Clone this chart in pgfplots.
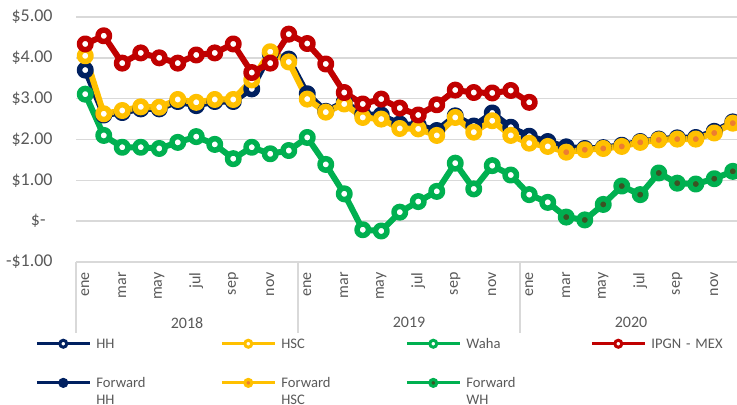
\documentclass[border=0pt]{standalone}
\usepackage{pgfplots}
\pgfplotsset{compat=1.18}
\usepackage{pgfplotstable}
\usepackage{fontspec}
\setmainfont{Carlito}
\definecolor{cHH}{HTML}{002060}
\definecolor{cHSC}{HTML}{FFC000}
\definecolor{cWaha}{HTML}{00B050}
\definecolor{cIPGN}{HTML}{C00000}
\definecolor{dotHSC}{HTML}{ED7D31}
\definecolor{dotWH}{HTML}{3B5323}
\definecolor{gridc}{HTML}{D9D9D9}
\definecolor{txt}{HTML}{595959}

\pgfplotstableread{
i HH HSC Waha IPGN
0 3.70 4.05 3.11 4.34
1 2.60 2.63 2.10 4.54
2 2.66 2.71 1.81 3.87
3 2.75 2.80 1.81 4.12
4 2.75 2.79 1.78 4.00
5 2.93 2.98 1.93 3.87
6 2.83 2.91 2.07 4.07
7 2.93 2.98 1.88 4.12
8 2.93 2.98 1.53 4.34
9 3.24 3.46 1.81 3.64
10 4.10 4.15 1.65 3.87
11 3.97 3.90 1.73 4.58
12 3.12 2.99 2.05 4.35
13 2.69 2.67 1.39 3.85
14 2.92 2.87 0.67 3.15
15 2.62 2.54 -0.21 2.87
16 2.60 2.50 -0.24 2.99
17 2.38 2.27 0.22 2.77
18 2.35 2.26 0.48 2.60
19 2.22 2.10 0.73 2.85
20 2.58 2.54 1.42 3.21
21 2.33 2.18 0.79 3.15
22 2.65 2.46 1.36 3.14
23 2.30 2.10 1.13 3.20
24 2.08 1.91 0.65 2.91
25 1.95 1.83 0.46 nan
}\hist

\pgfplotstableread{
i HH HSC WH
25 1.95 1.83 0.46
26 1.82 1.69 0.10
27 1.78 1.75 0.03
28 1.80 1.78 0.41
29 1.86 1.83 0.86
30 1.95 1.93 0.65
31 2.01 1.99 1.18
32 2.04 2.01 0.93
33 2.05 2.01 0.91
34 2.20 2.16 1.04
35 2.43 2.40 1.22
}\fwd

\pgfplotsset{
  histS/.style={line width=3pt, line join=round, mark=*, mark size=2.875pt,
    mark options={fill=white, line width=2.75pt}},
  fwdS/.style={line width=3pt, line join=round, mark=*, mark size=2.875pt,
    mark options={fill=#1, line width=2.75pt}, mark indices={2,...,11}},
  legHist/.style={legend image code/.code={
    \draw[line width=1.4pt] (0pt,2.4pt) -- (26.5pt,2.4pt);
    \draw[line width=1.5pt, fill=white] (13.25pt,2.4pt) circle (1.75pt);}},
  legFwd/.style={legend image code/.code={
    \draw[line width=1.4pt] (0pt,2.4pt) -- (26.5pt,2.4pt);
    \draw[line width=1.5pt, fill=#1] (13.25pt,2.4pt) circle (1.75pt);}},
}

\begin{document}
\begin{tikzpicture}
\begin{axis}[
  scale only axis, width=330.5pt, height=122.5pt,
  xmin=-0.5, xmax=35.23, ymin=-1, ymax=5,
  axis line style={draw=none},
  ymajorgrids, major grid style={gridc, line width=0.75pt},
  ytick={-1,0,1,2,3,4,5},
  yticklabels={-\$1.00,\$-\hspace*{3.5pt},\$1.00,\$2.00,\$3.00,\$4.00,\$5.00},
  yticklabel style={font=\fontsize{9}{10}\selectfont, text=txt, anchor=east, inner sep=0pt, xshift=-11.5pt},
  xtick={0,2,...,34},
  xticklabels={ene,mar,may,jul,sep,nov,ene,mar,may,jul,sep,nov,ene,mar,may,jul,sep,nov},
  xticklabel style={yshift=-5pt, rotate=90, anchor=east, inner sep=0pt, font=\fontsize{8}{9}\selectfont, text=txt},
  major tick length=0pt,
  clip=false,
  legend columns=4,
  legend style={draw=none, fill=none, inner sep=0pt,
    at={(rel axis cs:0,0)}, anchor=north west, xshift=-20.5pt, yshift=-38pt,
    cells={anchor=base west},
    nodes={inner sep=0pt, text=txt, font=\fontsize{7.3}{8.2}\selectfont, text width=50pt, align=left},
    /tikz/every odd column/.append style={column sep=2.6pt},
    /tikz/every even column/.append style={column sep=12pt},
    row sep=13pt},
]
\addlegendimage{cHH, legHist}
\addlegendimage{cHSC, legHist}
\addlegendimage{cWaha, legHist}
\addlegendimage{cIPGN, legHist}
\addlegendimage{cHH, legFwd=cHH}
\addlegendimage{cHSC, legFwd=dotHSC}
\addlegendimage{cWaha, legFwd=dotWH}

\addplot[cHH, fwdS=cHH, forget plot] table[x=i, y=HH] {\fwd};
\addplot[cHSC, fwdS=dotHSC, forget plot] table[x=i, y=HSC] {\fwd};
\addplot[cWaha, fwdS=dotWH, forget plot] table[x=i, y=WH] {\fwd};
\addplot[cHH, histS, forget plot] table[x=i, y=HH] {\hist};
\addplot[cHSC, histS, forget plot] table[x=i, y=HSC] {\hist};
\addplot[cWaha, histS, forget plot] table[x=i, y=Waha] {\hist};
\addplot[cIPGN, histS, forget plot] table[x=i, y=IPGN] {\hist};

\legend{HH,HSC,Waha,IPGN - MEX,{Forward\\HH},{Forward\\HSC},{Forward\\WH}}

\draw[gridc, line width=0.7pt] (axis cs:-0.5,-1) -- ++(0pt,-35.5pt);
\draw[gridc, line width=0.7pt] (axis cs:11.5,-1) -- ++(0pt,-35.5pt);
\draw[gridc, line width=0.7pt] (axis cs:23.5,-1) -- ++(0pt,-35.5pt);
\node[font=\fontsize{8}{9}\selectfont, text=txt, yshift=-30.35pt] at (axis cs:5.5,-1) {2018};
\node[font=\fontsize{8}{9}\selectfont, text=txt, yshift=-30.35pt] at (axis cs:17.5,-1) {2019};
\node[font=\fontsize{8}{9}\selectfont, text=txt, yshift=-30.35pt] at (axis cs:29.5,-1) {2020};
\end{axis}
\pgfresetboundingbox
\path[use as bounding box] (-38pt,-71.5pt) rectangle (330.5pt,131pt);
\end{tikzpicture}
\end{document}
